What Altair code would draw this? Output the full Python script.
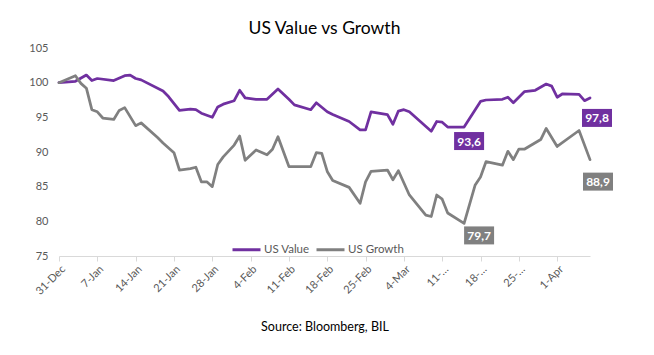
import altair as alt
import pandas as pd

value_dates = ["2021-12-31", "2022-01-03", "2022-01-05", "2022-01-06", "2022-01-07", "2022-01-10",
               "2022-01-12", "2022-01-13", "2022-01-14", "2022-01-15", "2022-01-19", "2022-01-20",
               "2022-01-22", "2022-01-24", "2022-01-25", "2022-01-26", "2022-01-28", "2022-01-29",
               "2022-01-30", "2022-02-01", "2022-02-02", "2022-02-03", "2022-02-05", "2022-02-07",
               "2022-02-09", "2022-02-11", "2022-02-12", "2022-02-15", "2022-02-16", "2022-02-18",
               "2022-02-19", "2022-02-22", "2022-02-24", "2022-02-25", "2022-02-26", "2022-03-01",
               "2022-03-02", "2022-03-03", "2022-03-04", "2022-03-05", "2022-03-09", "2022-03-10",
               "2022-03-11", "2022-03-12", "2022-03-15", "2022-03-18", "2022-03-19", "2022-03-22",
               "2022-03-23", "2022-03-24", "2022-03-26", "2022-03-28", "2022-03-30", "2022-03-31",
               "2022-04-01", "2022-04-02", "2022-04-05", "2022-04-06", "2022-04-07"]
value_vals = [100.0, 100.2, 101.1, 100.3, 100.6, 100.3,
              101.0, 101.1, 100.6, 100.4, 98.8, 98.0,
              96.0, 96.2, 96.1, 95.6, 95.0, 96.5,
              96.9, 97.4, 98.9, 97.8, 97.6, 97.6,
              99.1, 97.6, 96.8, 96.1, 97.1, 95.8,
              95.4, 94.4, 93.2, 93.2, 95.8, 95.4,
              94.0, 95.9, 96.1, 95.8, 93.0, 94.4,
              94.3, 93.6, 93.6, 97.3, 97.5, 97.6,
              97.9, 97.1, 98.7, 98.9, 99.8, 99.5,
              97.9, 98.4, 98.3, 97.4, 97.8]

growth_dates = ["2021-12-31", "2022-01-03", "2022-01-04", "2022-01-05", "2022-01-06", "2022-01-07",
                "2022-01-08", "2022-01-10", "2022-01-11", "2022-01-12", "2022-01-14", "2022-01-15",
                "2022-01-18", "2022-01-19", "2022-01-21", "2022-01-22", "2022-01-24", "2022-01-25",
                "2022-01-26", "2022-01-27", "2022-01-28", "2022-01-29", "2022-01-30", "2022-02-01",
                "2022-02-02", "2022-02-03", "2022-02-05", "2022-02-07", "2022-02-08", "2022-02-09",
                "2022-02-11", "2022-02-15", "2022-02-16", "2022-02-17", "2022-02-18", "2022-02-19",
                "2022-02-22", "2022-02-24", "2022-02-25", "2022-02-26", "2022-03-01", "2022-03-02",
                "2022-03-03", "2022-03-05", "2022-03-08", "2022-03-09", "2022-03-10", "2022-03-11",
                "2022-03-12", "2022-03-15", "2022-03-17", "2022-03-18", "2022-03-19", "2022-03-22",
                "2022-03-23", "2022-03-24", "2022-03-25", "2022-03-26", "2022-03-29", "2022-03-30",
                "2022-04-01", "2022-04-05", "2022-04-07"]
growth_vals = [100.0, 101.0, 99.9, 99.2, 96.1, 95.8,
               94.9, 94.7, 96.0, 96.4, 93.8, 94.2,
               92.1, 91.3, 89.9, 87.4, 87.6, 87.8,
               85.7, 85.7, 85.0, 88.2, 89.3, 91.0,
               92.3, 88.8, 90.3, 89.6, 90.4, 92.2,
               87.9, 87.9, 89.9, 89.8, 87.2, 85.9,
               84.9, 82.6, 85.7, 87.2, 87.4, 86.0,
               87.3, 83.8, 80.9, 80.7, 83.8, 83.2,
               81.2, 79.7, 85.2, 86.4, 88.6, 88.1,
               90.1, 88.9, 90.4, 90.4, 91.8, 93.4,
               90.8, 93.1, 88.9]

series_names = ["US Value", "US Growth"]
series_colors = ["#7030A0", "#808080"]
tick_dates = ["2021-12-31", "2022-01-07", "2022-01-14", "2022-01-21", "2022-01-28", "2022-02-04",
              "2022-02-11", "2022-02-18", "2022-02-25", "2022-03-04", "2022-03-11", "2022-03-18",
              "2022-03-25", "2022-04-01"]
y_ticks = [75, 80, 85, 90, 95, 100, 105]
label_series = ["US Value", "US Growth", "US Value", "US Growth"]
label_dates = ["2022-03-15", "2022-03-15", "2022-04-07", "2022-04-07"]

FONT = "Lato"


def ms(d):
    return int(pd.Timestamp(d, tz="UTC").value // 10**6)


df = pd.concat([
    pd.DataFrame({"date": value_dates, "value": value_vals, "series": "US Value"}),
    pd.DataFrame({"date": growth_dates, "value": growth_vals, "series": "US Growth"}),
], ignore_index=True)

x_scale = alt.Scale(type="utc", domain=[ms(value_dates[0]), ms(value_dates[-1])], nice=False)
y_scale = alt.Scale(domain=[75, 105], nice=False, zero=False)

label_expr = ("utcmonth(datum.value) == 2 && utcdate(datum.value) >= 11 ? "
              "utcdate(datum.value) + '-…' : utcFormat(datum.value, '%-d-%b')")

x_axis = alt.Axis(values=[ms(d) for d in tick_dates], labelExpr=label_expr,
                  labelAngle=-45, labelFontSize=11, labelColor="#595959",
                  labelFont=FONT, domainColor="#D9D9D9", tickColor="#D9D9D9",
                  tickSize=5, grid=False, labelPadding=2, labelOverlap=False,
                  title="Source: Bloomberg, BIL", titleFont=FONT,
                  titleFontSize=12.5, titleFontWeight="normal", titleColor="#000000",
                  titlePadding=24)
y_axis = alt.Axis(values=y_ticks, domain=False, ticks=False, grid=False,
                  labelFontSize=11, labelColor="#595959", labelFont=FONT,
                  labelPadding=11, labelOverlap=False, labelFlush=False, title=None)

lines = alt.Chart(df).mark_line(strokeWidth=2.75, strokeJoin="round", strokeCap="round").encode(
    x=alt.X("date:T", scale=x_scale, axis=x_axis),
    y=alt.Y("value:Q", scale=y_scale, axis=y_axis),
    color=alt.Color("series:N",
                    scale=alt.Scale(domain=series_names, range=series_colors),
                    legend=alt.Legend(orient="none", legendX=172, legendY=186,
                                      direction="horizontal", title=None,
                                      symbolType="stroke", symbolStrokeWidth=3,
                                      symbolSize=784, labelFont=FONT, labelFontSize=11.5,
                                      labelColor="#595959", labelOffset=2, columnPadding=0)),
    order=alt.Order("date:T"),
)

lookup = {("US Value", d): v for d, v in zip(value_dates, value_vals)}
lookup.update({("US Growth", d): v for d, v in zip(growth_dates, growth_vals)})

offsets = [(5, 14), (15, 12), (7, 20), (8, 22)]
layers = [lines]
for (s, d), (dx, dy) in zip(zip(label_series, label_dates), offsets):
    v = lookup[(s, d)]
    ldf = pd.DataFrame({"date": [d], "value": [v], "series": [s],
                        "text": [f"{v:.1f}".replace(".", ",")]})
    base = alt.Chart(ldf).encode(
        x=alt.X("date:T", scale=x_scale, axis=x_axis),
        y=alt.Y("value:Q", scale=y_scale, axis=y_axis),
    )
    box = base.mark_rect(width=30, height=18, xOffset=dx, yOffset=dy).encode(
        color=alt.Color("series:N", scale=alt.Scale(domain=series_names, range=series_colors),
                        legend=None))
    txt = base.mark_text(font=FONT, fontSize=12, fontWeight="bold", color="white",
                         xOffset=dx, yOffset=dy + 0.5).encode(text="text:N")
    layers += [box, txt]

chart = alt.layer(*layers).properties(
    width=531, height=208,
    title=alt.TitleParams("US Value vs Growth", font=FONT, fontSize=17.5,
                          fontWeight="normal", color="#000000", anchor="middle",
                          frame="group", offset=5),
    autosize=alt.AutoSizeParams(type="none"),
    padding={"left": 51, "top": 40, "right": 50, "bottom": 80},
).configure(font=FONT).configure_view(stroke=None)

chart.save("out.html", embed_options={"renderer": "svg", "actions": False})
